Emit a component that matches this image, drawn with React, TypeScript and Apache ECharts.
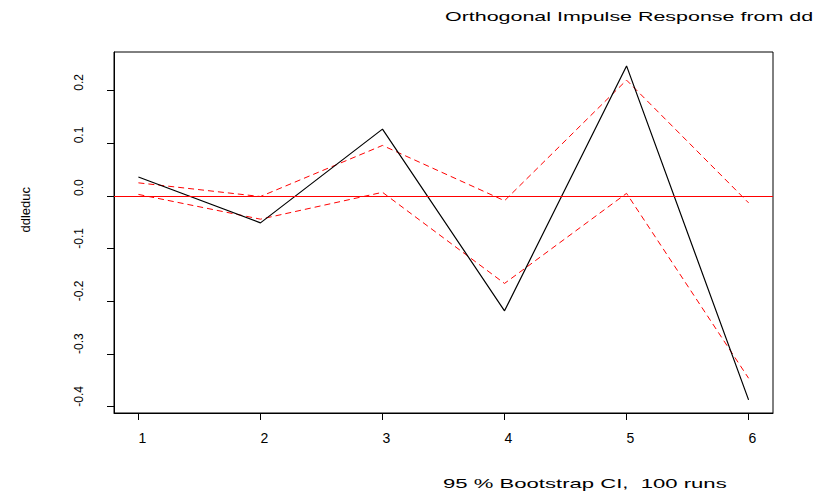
import React, { useEffect, useRef } from "react";
import * as echarts from "echarts";

const steps = [1, 2, 3, 4, 5, 6];
const irf = [0.036, -0.051, 0.127, -0.218, 0.247, -0.387];
const upper = [0.025, -0.001, 0.096, -0.009, 0.22, -0.013];
const lower = [0.003, -0.044, 0.007, -0.166, 0.005, -0.346];
const yTicks = [-0.4, -0.3, -0.2, -0.1, 0.0, 0.1, 0.2];
const xTicks = [1, 2, 3, 4, 5, 6];

const titleText = "Orthogonal Impulse Response from dd";
const subText = "95 % Bootstrap CI,  100 runs";
const yName = "ddleduc";

const FONT = "'Liberation Sans', Arial, Helvetica, sans-serif";

export default function App() {
  const ref = useRef<HTMLDivElement>(null);
  useEffect(() => {
    if (!ref.current) return;
    const chart = echarts.init(ref.current, undefined, { renderer: "svg" });
    const pairs = (ys: number[]) => steps.map((s, i) => [s, ys[i]]);
    chart.setOption({
      animation: false,
      backgroundColor: "#ffffff",
      grid: {
        left: 114,
        top: 52,
        right: 52,
        bottom: 80,
        show: true,
        borderColor: "#000000",
        borderWidth: 1,
        backgroundColor: "transparent",
      },
      xAxis: {
        type: "value",
        min: 0.8,
        max: 6.2,
        splitLine: { show: false },
        axisLine: { show: true, onZero: false, lineStyle: { color: "#000", width: 1 } },
        axisTick: { show: true, length: 7, customValues: xTicks, lineStyle: { color: "#000" } },
        axisLabel: {
          customValues: xTicks,
          color: "#000",
          fontFamily: FONT,
          fontSize: 14,
          margin: 18,
          align: "left",
          formatter: (v: number) => String(v),
        },
      },
      yAxis: {
        type: "value",
        min: -0.412,
        max: 0.2734,
        splitLine: { show: false },
        axisLine: { show: true, onZero: false, lineStyle: { color: "#000", width: 1 } },
        axisTick: { show: true, length: 7, customValues: yTicks, lineStyle: { color: "#000" } },
        axisLabel: {
          customValues: yTicks,
          color: "#000",
          fontFamily: FONT,
          fontSize: 12,
          rotate: 90,
          margin: 29,
          align: "left",
          verticalAlign: "bottom",
          formatter: (v: number) => v.toFixed(1),
        },
        name: yName,
        nameLocation: "middle",
        nameRotate: 90,
        nameGap: 82,
        nameTextStyle: {
          color: "#000",
          fontFamily: FONT,
          fontSize: 13,
          align: "left",
          verticalAlign: "bottom",
        },
      },
      graphic: [
        {
          type: "text",
          x: 445,
          y: 16.5,
          scaleX: 1.65,
          style: {
            text: titleText,
            fill: "#000",
            font: `13px ${FONT}`,
            textAlign: "left",
            textVerticalAlign: "middle",
          },
        },
        {
          type: "text",
          x: 443,
          y: 483.5,
          scaleX: 1.7,
          style: {
            text: subText,
            fill: "#000",
            font: `13px ${FONT}`,
            textAlign: "left",
            textVerticalAlign: "middle",
          },
        },
      ],
      series: [
        {
          type: "line",
          name: "irf",
          data: pairs(irf),
          symbol: "none",
          lineStyle: { color: "#000000", width: 1.2 },
          z: 3,
          markLine: {
            silent: true,
            symbol: "none",
            label: { show: false },
            lineStyle: { color: "#FF0000", type: "solid", width: 1 },
            data: [{ yAxis: 0 }],
          },
        },
        {
          type: "line",
          name: "upper",
          data: pairs(upper),
          symbol: "none",
          lineStyle: { color: "#FF0000", width: 1, type: [6, 4] },
          z: 2,
        },
        {
          type: "line",
          name: "lower",
          data: pairs(lower),
          symbol: "none",
          lineStyle: { color: "#FF0000", width: 1, type: [6, 4] },
          z: 2,
        },
      ],
    });
    return () => chart.dispose();
  }, []);
  return (
    <div
      ref={ref}
      style={{ position: "fixed", left: 0, top: 0, width: 825, height: 493, background: "#fff" }}
    />
  );
}
